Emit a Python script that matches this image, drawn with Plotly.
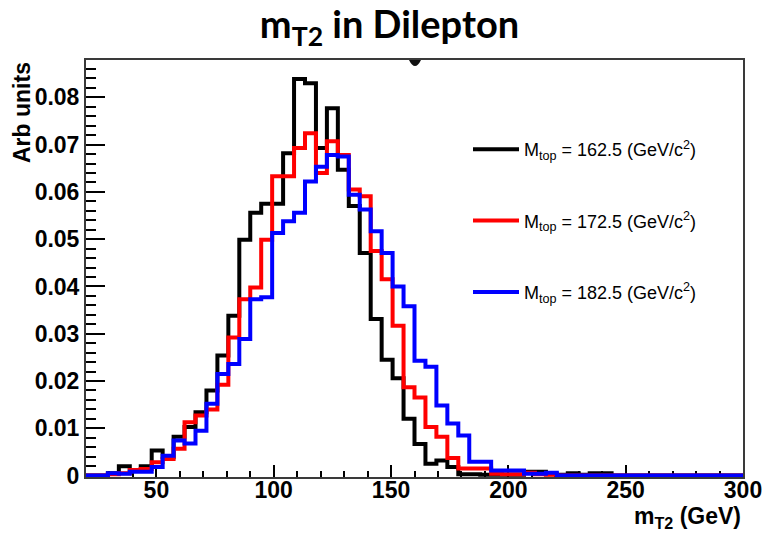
import numpy as np
import plotly.graph_objects as go

# m_T2 histograms: 60 bins between 20 and 300 GeV, unit-normalised
x_lo, x_hi, n_bins = 20.0, 300.0, 60
edges = np.linspace(x_lo, x_hi, n_bins + 1)

mtop_162 = [0, 0, 0.0005, 0.0020, 0.0010, 0.0020, 0.0053, 0.0039, 0.0082, 0.0103,
            0.0134, 0.0180, 0.0254, 0.0338, 0.0499, 0.0556, 0.0575, 0.0575, 0.0682, 0.0839,
            0.0830, 0.0693, 0.0777, 0.0647, 0.0570, 0.0471, 0.0331, 0.0245, 0.0206, 0.0120,
            0.0067, 0.0025, 0.0032, 0.0018, 0.0003, 0.0003, 0.0002, 0.0002, 0.0002, 0.0002,
            0.0008, 0.0008, 0.0003, 0.0002, 0.0005, 0.0002, 0.0005, 0.0005, 0, 0,
            0, 0, 0, 0, 0, 0, 0, 0, 0, 0]

mtop_172 = [0, 0, 0.0003, 0.0005, 0.0012, 0.0014, 0.0028, 0.0035, 0.0057, 0.0113,
            0.0127, 0.0140, 0.0192, 0.0292, 0.0373, 0.0398, 0.0499, 0.0633, 0.0633, 0.0693,
            0.0724, 0.0640, 0.0707, 0.0678, 0.0605, 0.0591, 0.0475, 0.0415, 0.0317, 0.0187,
            0.0165, 0.0103, 0.0082, 0.0037, 0.0015, 0.0015, 0.0015, 0.0004, 0.0003, 0.0003,
            0.0006, 0.0003, 0.0002, 0, 0, 0, 0, 0, 0, 0,
            0, 0, 0, 0, 0, 0, 0, 0, 0, 0]

mtop_182 = [0, 0, 0.0005, 0.0004, 0.0008, 0.0008, 0.0018, 0.0042, 0.0074, 0.0068,
            0.0095, 0.0152, 0.0215, 0.0236, 0.0289, 0.0373, 0.0377, 0.0513, 0.0538, 0.0556,
            0.0622, 0.0653, 0.0678, 0.0675, 0.0594, 0.0563, 0.0517, 0.0471, 0.0400, 0.0358,
            0.0243, 0.0230, 0.0148, 0.0110, 0.0085, 0.0029, 0.0029, 0.0011, 0.0011, 0.0011,
            0.0004, 0.0004, 0.0006, 0, 0, 0, 0, 0, 0, 0,
            0, 0, 0, 0, 0, 0, 0, 0, 0, 0]

series = [
    ("M<sub>top</sub> = 162.5 (GeV/c<sup>2</sup>)", mtop_162, "#000000"),
    ("M<sub>top</sub> = 172.5 (GeV/c<sup>2</sup>)", mtop_172, "#ff0000"),
    ("M<sub>top</sub> = 182.5 (GeV/c<sup>2</sup>)", mtop_182, "#0000ff"),
]

W, H = 765, 534
L, R, T, B = 86, 22, 60, 57
plot_w = W - L - R
plot_h = H - T - B

fig = go.Figure()
for i, (name, vals, color) in enumerate(series):
    # step outline: value at each left edge, closed at the right edge
    ys = list(vals) + [vals[-1]]
    fig.add_trace(go.Scatter(
        x=edges, y=ys, mode="lines", name=name,
        line=dict(color=color, width=4, shape="hv"),
        legendgroup=f"g{i}", hoverinfo="skip",
    ))

label_font = dict(family="Liberation Sans", size=23, color="black", weight="bold")

fig.update_layout(
    width=W, height=H,
    margin=dict(l=L, r=R, t=T, b=B, pad=0, autoexpand=False),
    paper_bgcolor="white", plot_bgcolor="white",
    title=dict(
        text="m<sub>T2</sub> in Dilepton",
        font=dict(family="Lato", size=38, color="black", weight="bold"),
        x=389.5 / W, xref="container", xanchor="center",
        y=1 - 25 / H, yref="container", yanchor="middle",
    ),
    showlegend=True,
    legend=dict(
        x=(468 - L) / plot_w, y=(H - B - 131) / plot_h,
        xanchor="left", yanchor="top",
        font=dict(family="Liberation Sans", size=18, color="black"),
        bgcolor="rgba(0,0,0,0)", borderwidth=0,
        tracegroupgap=45, itemwidth=46,
    ),
    xaxis=dict(
        range=[x_lo, x_hi], tick0=0, dtick=50,
        ticks="inside", ticklen=12, tickwidth=1.5, tickcolor="black",
        minor=dict(dtick=10, tick0=0, ticks="inside", ticklen=6, tickwidth=1.5, tickcolor="black"),
        showgrid=False, zeroline=False, automargin=False,
        showline=True, linecolor="#3a3a3a", linewidth=2, mirror=True,
        tickfont=label_font, ticklabelstandoff=-9, layer="below traces",
    ),
    yaxis=dict(
        range=[-0.0003, 0.0879], tick0=0, dtick=0.01,
        ticks="inside", ticklen=19, tickwidth=1.5, tickcolor="black",
        minor=dict(dtick=0.002, tick0=0, ticks="inside", ticklen=10, tickwidth=1.5, tickcolor="black"),
        showgrid=False, zeroline=False, automargin=False,
        showline=True, linecolor="#3a3a3a", linewidth=2, mirror=True,
        tickfont=label_font, layer="below traces",
    ),
    annotations=[
        dict(text="Arb units", textangle=-90,
             xref="paper", yref="paper",
             x=(22 - L) / plot_w, y=(H - B - 113) / plot_h,
             xanchor="center", yanchor="middle", showarrow=False,
             font=label_font),
        dict(text="m<sub>T2</sub> (GeV)",
             xref="paper", yref="paper",
             x=1.0, y=(H - B - 534) / plot_h,
             xanchor="right", yanchor="bottom", showarrow=False,
             font=label_font),
    ],
    shapes=[
        # small dark notch hanging under the top frame
        dict(type="path", xref="paper", yref="paper",
             path="M {:.4f},{:.4f} Q {:.4f},{:.4f} {:.4f},{:.4f} Z".format(
                 (409 - L) / plot_w, 1.0,
                 (415 - L) / plot_w, (H - B - 72) / plot_h,
                 (421 - L) / plot_w, 1.0),
             fillcolor="#111111", line=dict(width=0)),
    ],
)

fig.write_html("out.html")
